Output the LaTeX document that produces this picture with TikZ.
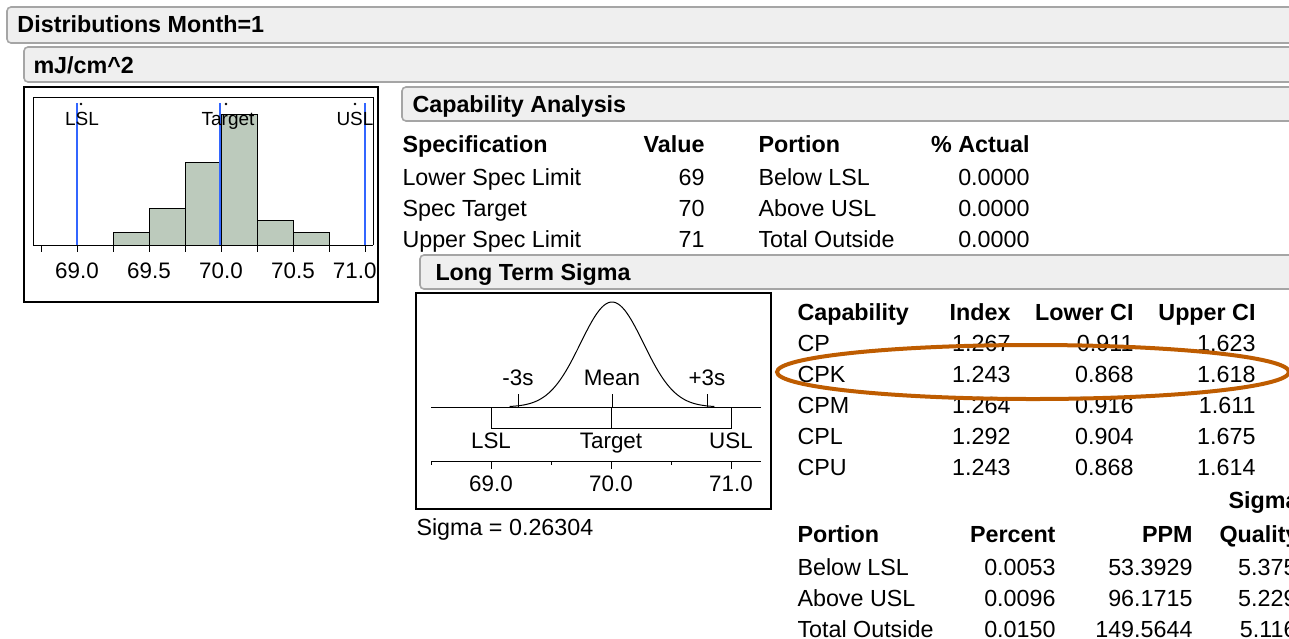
\documentclass[tikz,border=0pt]{standalone}
\usepackage{fontspec}
\setmainfont{Liberation Sans}
\usetikzlibrary{positioning}
\definecolor{barfill}{RGB}{239,239,239}
\definecolor{barline}{RGB}{165,165,165}
\definecolor{histfill}{RGB}{188,202,188}
\definecolor{speclim}{RGB}{51,102,255}
\definecolor{markup}{RGB}{190,92,0}
\newcommand{\tabfont}{\fontsize{11.65}{14}\selectfont}
\newcommand{\plotfont}{\fontsize{11.2}{13}\selectfont}
\tikzset{
  hdrbar/.style={draw=barline,fill=barfill,rounded corners=2pt,line width=0.8pt},
  hdrtext/.style={anchor=base west,inner sep=0pt,font=\tabfont\bfseries},
  lcell/.style={anchor=base west,inner sep=0pt,font=\tabfont},
  rcell/.style={anchor=base east,inner sep=0pt,font=\tabfont},
  boldcell/.style={font=\tabfont\bfseries},
  plotlab/.style={anchor=base,inner sep=0pt,font=\plotfont},
  limlab/.style={anchor=base,inner sep=0pt,font=\fontsize{9.5}{11}\selectfont},
  framebox/.style={draw,line width=0.6pt}
}

\begin{document}
\begin{tikzpicture}[x=0.5pt,y=-0.5pt,line width=0.5pt]
  \useasboundingbox (0,0) rectangle (1289,638);
  \clip (0,0) rectangle (1289,638);
  % outline bars
  \draw[hdrbar] (7,7) rectangle (1310,43);
  \node[hdrtext] (distbar) at (17,32) {Distributions Month=1};
  \draw[hdrbar] (24,47) rectangle (1310,82);
  \node[hdrtext] (varbar) at (33,73) {mJ/cm\textasciicircum 2};
  \draw[hdrbar] (402,87) rectangle (1310,121);
  \node[hdrtext] (capbar) at (412,112) {Capability Analysis};
  \draw[hdrbar] (420,255) rectangle (1310,289);
  \node[hdrtext] (ltbar) at (435,280) {Long Term Sigma};

  % histogram with spec limits
  \draw[framebox] (24,87) rectangle (378,302);
  \draw (33,245) -- (33,97) -- (373,97) -- (373,245);
  \foreach \xa/\xb/\top in {113/149/232,149/185/208,185/221/162,221/257/114,257/293/220,293/329/232}
    \draw[fill=histfill] (\xa,245) rectangle (\xb,\top);
  \draw (33,245) -- (373,245);
  \foreach \t in {41,77,113,149,185,221,257,293,329,365}
    \draw (\t,245) -- (\t,252);
  \foreach \t in {77,220,365}
    \draw[speclim,line width=0.8pt] (\t,103) -- (\t,245);
  \foreach \t in {81,226,355}
    \fill (\t,104) circle [radius=1.4];
  \node[limlab] (hlsl) at (82,125) {LSL};
  \node[limlab] (htarget) at (228,125) {Target};
  \node[limlab] (husl) at (355,125) {USL};
  \node[plotlab] (hx1) at (77,278) {69.0};
  \node[plotlab] (hx2) at (149,278) {69.5};
  \node[plotlab] (hx3) at (221,278) {70.0};
  \node[plotlab] (hx4) at (293,278) {70.5};
  \node[plotlab,anchor=base east] (hx5) at (377,278) {71.0};

  % specification table
  \node[lcell,boldcell] (spechd) at (402,152) {Specification};
  \node[rcell,boldcell] (valhd) at (705,152) {Value};
  \node[lcell,boldcell] (porhd) at (758,152) {Portion};
  \node[rcell,boldcell] (acthd) at (1030,152) {\% Actual};
  \foreach \nm/\val/\por [count=\i] in {Lower Spec Limit/69/Below LSL,Spec Target/70/Above USL,Upper Spec Limit/71/Total Outside}{
    \node[lcell] (spec\i) at (402,{154+31*\i}) {\nm};
    \node[rcell] (val\i) at (705,{154+31*\i}) {\val};
    \node[lcell] (por\i) at (758,{154+31*\i}) {\por};
    \node[rcell] (act\i) at (1030,{154+31*\i}) {0.0000};
  }

  % normal curve panel
  \draw[framebox] (416,293) rectangle (771,509);
  \draw (431,407) -- (761,407);
  \draw plot[domain=-3.25:3.25,samples=90,smooth] ({612+31.5*\x},{407-105*exp(-0.5*\x*\x)});
  \foreach \t in {518,612,707}
    \draw (\t,394) -- (\t,407);
  \node[plotlab] (msm) at (518,385) {-3s};
  \node[plotlab] (mmean) at (612,385) {Mean};
  \node[plotlab] (msp) at (707,385) {+3s};
  \draw (491,407) -- (491,428) -- (731,428) -- (731,407);
  \draw (611,407) -- (611,428);
  \node[plotlab] (nlsl) at (491,448) {LSL};
  \node[plotlab] (ntarget) at (611,448) {Target};
  \node[plotlab] (nusl) at (731,448) {USL};
  \draw (431,461) -- (761,461);
  \foreach \t in {491,611,731}
    \draw (\t,461) -- (\t,469);
  \foreach \t in {431,551,671}
    \draw (\t,461) -- (\t,465);
  \node[plotlab] (nx1) at (491,491) {69.0};
  \node[plotlab] (nx2) at (611,491) {70.0};
  \node[plotlab] (nx3) at (731,491) {71.0};
  \node[lcell] (sigma) at (416,535) {Sigma = 0.26304};

  % capability indices
  \node[lcell,boldcell] (caphd) at (797,320) {Capability};
  \node[rcell,boldcell] (idxhd) at (1011,320) {Index};
  \node[rcell,boldcell] (lcihd) at (1134,320) {Lower CI};
  \node[rcell,boldcell] (ucihd) at (1256,320) {Upper CI};
  \foreach \nm/\idx/\lci/\uci [count=\i] in {CP/1.267/0.911/1.623,CPK/1.243/0.868/1.618,CPM/1.264/0.916/1.611,CPL/1.292/0.904/1.675,CPU/1.243/0.868/1.614}{
    \node[lcell] (cap\i) at (797,{320+31*\i}) {\nm};
    \node[rcell] (idx\i) at (1011,{320+31*\i}) {\idx};
    \node[rcell] (lci\i) at (1134,{320+31*\i}) {\lci};
    \node[rcell] (uci\i) at (1256,{320+31*\i}) {\uci};
  }

  % long term portions
  \node[rcell,boldcell] (sqhd) at (1299,508) {Sigma};
  \node[lcell,boldcell] (lporhd) at (797,542) {Portion};
  \node[rcell,boldcell] (pcthd) at (1056,542) {Percent};
  \node[rcell,boldcell] (ppmhd) at (1193,542) {PPM};
  \node[rcell,boldcell] (qualhd) at (1299,542) {Quality};
  \foreach \nm/\pct/\ppm/\sq [count=\i] in {Below LSL/0.0053/53.3929/5.375,Above USL/0.0096/96.1715/5.229,Total Outside/0.0150/149.5644/5.116}{
    \node[lcell] (lpor\i) at (797,{544+31*\i}) {\nm};
    \node[rcell] (pct\i) at (1056,{544+31*\i}) {\pct};
    \node[rcell] (ppm\i) at (1193,{544+31*\i}) {\ppm};
    \node[rcell] (sq\i) at (1297,{544+31*\i}) {\sq};
  }

  % highlight of the CPK row
  \draw[markup,line width=2pt] (1033,372) ellipse [x radius=256,y radius=27];
\end{tikzpicture}
\end{document}
